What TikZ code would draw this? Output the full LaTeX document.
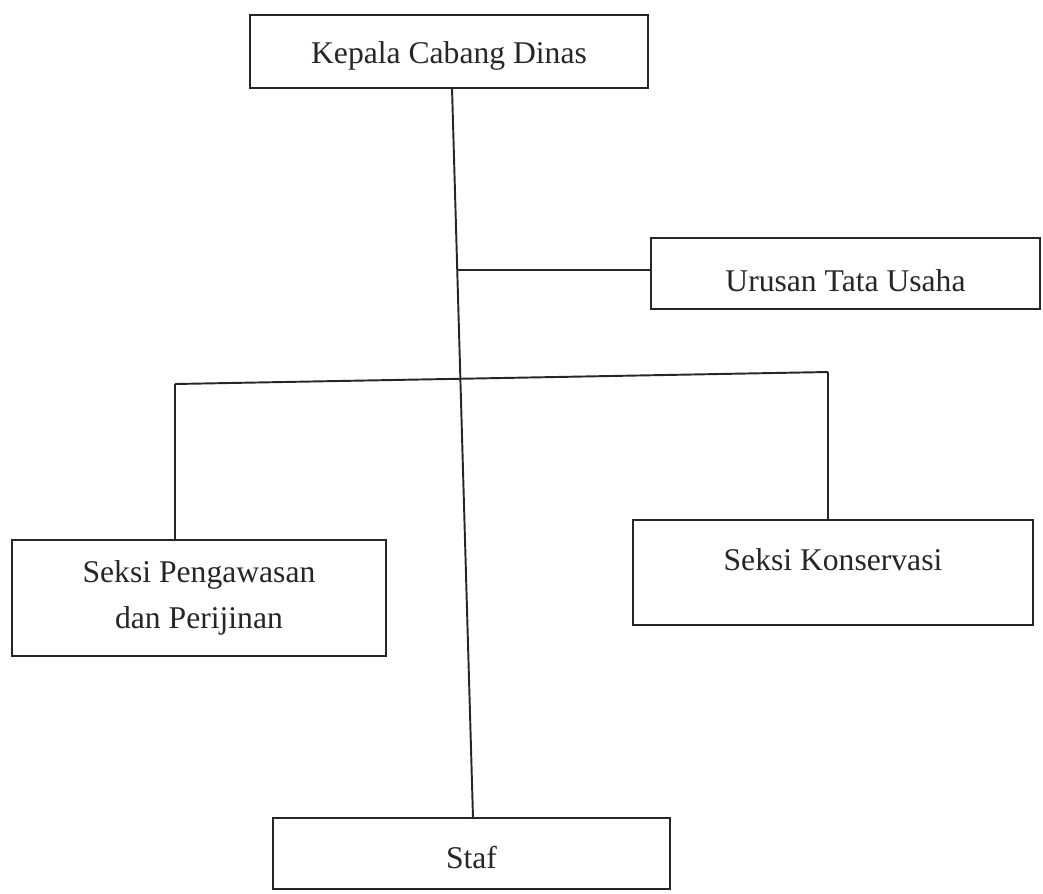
\documentclass[tikz,border=0pt]{standalone}
\usepackage{fontspec}
\setmainfont{Liberation Serif}
\begin{document}
\begin{tikzpicture}[x=0.02cm,y=-0.02cm,
  box/.style={draw=black!85, line width=1.1pt, rectangle, inner sep=0pt, outer sep=0pt,
    font=\fontsize{18}{26}\selectfont, align=center, text=black!85},
  conn/.style={draw=black!85, line width=1.1pt}]
\useasboundingbox (0,0) rectangle (1043,893);
\node[box, minimum width=7.96cm, minimum height=1.46cm, text height=13.7pt, text depth=0pt] (kepala) at (449,51.5) {Kepala Cabang Dinas};
\node[box, minimum width=7.78cm, minimum height=1.42cm, text height=20.5pt, text depth=0pt] (urusan) at (845.5,273.5) {Urusan Tata Usaha};
\node[box, minimum width=7.48cm, minimum height=2.32cm] (pengawasan) at (199,598) {Seksi Pengawasan\\dan Perijinan};
\node[box, minimum width=8.0cm, minimum height=2.10cm, text height=12pt, text depth=14.8pt] (konservasi) at (833,572.5) {Seksi Konservasi};
\node[box, minimum width=7.94cm, minimum height=1.42cm, text height=16.6pt, text depth=0pt] (staf) at (471.5,853.5) {Staf};
\coordinate (top) at (452,88);
\coordinate (bot) at (473,818);
\coordinate (m1) at (457,270);
\coordinate (bl) at (175,384);
\coordinate (br) at (828,372);
\draw[conn] (top) -- (bot);
\draw[conn] (m1) -- (m1 -| urusan.west);
\draw[conn] (bl) -- (br);
\draw[conn] (bl) -- (bl |- pengawasan.north);
\draw[conn] (br) -- (br |- konservasi.north);
\end{tikzpicture}
\end{document}
